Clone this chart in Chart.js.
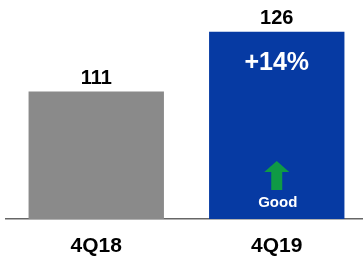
<!DOCTYPE html>
<html>
<head>
<meta charset="utf-8">
<script src="https://cdn.jsdelivr.net/npm/chart.js@4/dist/chart.umd.min.js"></script>
<style>
  html, body { margin: 0; padding: 0; background: #fff; overflow: hidden; }
  #wrap { width: 363px; height: 259px; overflow: hidden; }
</style>
</head>
<body>
<div id="wrap"><canvas id="revChart" width="367" height="259"></canvas></div>
<script>
// chart data
const categories = ['4Q18', '4Q19'];
const values = [111, 126];
const barColors = ['#8a8a8a', '#063aa3'];
const changeLabel = '+14%';
const noteLabel = 'Good';
const axisMin = 79;
const axisMax = 134;

const FONT = '"Liberation Sans", Arial, sans-serif';

// value labels above bars, change text + arrow inside last bar
const annotations = {
    id: 'annotations',
    afterDatasetsDraw(chart){
        const ctx = chart.ctx;
        const bars = chart.getDatasetMeta(0).data;
        const base = chart.chartArea.bottom;
        ctx.save();
        ctx.textAlign = 'center';
        ctx.textBaseline = 'alphabetic';
        ctx.fillStyle = '#000';
        ctx.font = 'bold 20px ' + FONT;
        bars.forEach(function(bar, i){
            ctx.fillText(String(values[i]), bar.x, bar.y - 8);
        });

        const last = bars[bars.length - 1];
        ctx.fillStyle = '#fff';
        ctx.font = 'bold 25px ' + FONT;
        ctx.fillText(changeLabel, last.x, last.y + 38);

        ctx.font = 'bold 15px ' + FONT;
        ctx.fillText(noteLabel, last.x + 1, base - 12);

        // green up arrow
        const cx = last.x;
        ctx.fillStyle = '#0f9a45';
        ctx.beginPath();
        ctx.moveTo(cx, base - 58);
        ctx.lineTo(cx + 12.5, base - 47);
        ctx.lineTo(cx + 5.5, base - 47);
        ctx.lineTo(cx + 5.5, base - 29);
        ctx.lineTo(cx - 5.5, base - 29);
        ctx.lineTo(cx - 5.5, base - 47);
        ctx.lineTo(cx - 12.5, base - 47);
        ctx.closePath();
        ctx.fill();
        ctx.restore();
    }
};

new Chart(document.getElementById('revChart'), {
    type: 'bar',
    data: {
        labels: categories,
        datasets: [{
            data: values,
            backgroundColor: barColors,
            borderWidth: 0,
            barPercentage: 0.75,
            categoryPercentage: 1
        }]
    },
    options: {
        responsive: false,
        animation: false,
        layout: { padding: { left: 6, right: 0, top: 0, bottom: 0 } },
        plugins: { legend: { display: false }, tooltip: { enabled: false } },
        scales: {
            x: {
                grid: { display: false, drawTicks: false },
                border: { display: true, color: '#666', width: 1.5 },
                ticks: { color: '#000', font: { family: FONT, size: 21, weight: 'bold' }, padding: 15 },
                afterFit: function(scale){ scale.height = 40; }
            },
            y: { display: false, min: axisMin, max: axisMax }
        }
    },
    plugins: [annotations]
});
</script>
</body>
</html>
